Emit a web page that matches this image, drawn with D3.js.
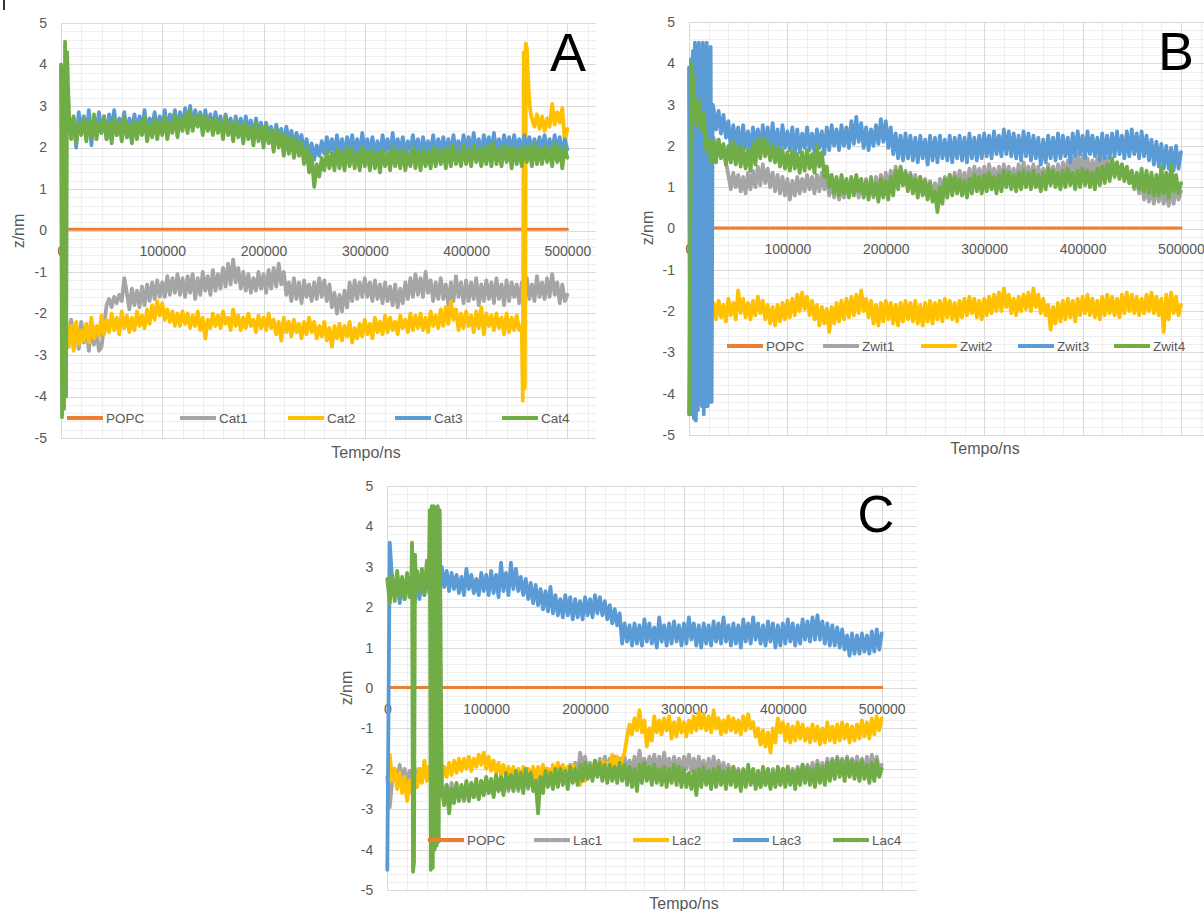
<!DOCTYPE html>
<html>
<head>
<meta charset="utf-8">
<script src="https://cdn.jsdelivr.net/npm/d3@7"></script>
<style>
  body { margin: 0; background: #fff; }
  svg { display: block; }
  text { font-family: "Liberation Sans", Arial, sans-serif; }
</style>
</head>
<body>
<svg id="chart" width="1204" height="911"></svg>
<script>
// Regular sampling grid shared by all traces (ns)
const time = d3.range(0, 500001, 2500);
const yTicks = d3.range(-5, 6);
const xTicks = [0, 100000, 200000, 300000, 400000, 500000];
const colors = ["#ED7D31", "#A5A5A5", "#FFC000", "#5B9BD5", "#70AD47"];

// ---- Panel A ----
const namesA = ["POPC", "Cat1", "Cat2", "Cat3", "Cat4"];
const popcTimeA = [6500, 500000];
const popcA = [0.03, 0.03];
const cat1 = [
  null,null,-2.25,-2.8,-2.15,-2.7,-2.3,-2.85,-2.2,-2.7,
  -2.35,-2.9,-2.25,-2.75,-2.4,-2.9,-2.8,-2.3,-1.8,-1.65,
  -1.85,-1.6,-1.75,-1.55,-1.7,-1.15,-1.5,-1.9,-1.4,-1.8,
  -1.45,-1.85,-1.35,-1.8,-1.3,-1.7,-1.25,-1.65,-1.2,-1.6,
  -1.25,-1.6,-1.1,-1.55,-1.15,-1.5,-1.05,-1.55,-1.15,-1.6,
  -1.1,-1.5,-1.05,-1.65,-1.15,-1.55,-1.0,-1.45,-1.1,-1.55,
  -0.95,-1.45,-1.05,-1.4,-0.9,-1.35,-0.8,-1.3,-0.7,-1.25,
  -0.9,-1.4,-1.0,-1.45,-1.05,-1.5,-1.15,-1.45,-1.0,-1.4,
  -1.05,-1.5,-0.95,-1.4,-0.9,-1.35,-0.8,-1.3,-1.0,-1.55,
  -1.25,-1.7,-1.15,-1.65,-1.25,-1.75,-1.2,-1.6,-1.3,-1.7,
  -1.25,-1.65,-1.15,-1.6,-1.2,-1.7,-1.3,-1.85,-1.5,-2.0,
  -1.55,-1.95,-1.45,-1.85,-1.25,-1.7,-1.2,-1.65,-1.25,-1.6,
  -1.15,-1.6,-1.25,-1.7,-1.2,-1.65,-1.3,-1.75,-1.25,-1.7,
  -1.35,-1.8,-1.3,-1.85,-1.4,-1.75,-1.25,-1.65,-1.15,-1.6,
  -1.05,-1.55,-1.15,-1.6,-1.0,-1.5,-1.2,-1.7,-1.25,-1.65,
  -1.15,-1.65,-1.3,-1.8,-1.25,-1.7,-1.1,-1.6,-1.25,-1.75,
  -1.2,-1.7,-1.25,-1.65,-1.15,-1.8,-1.3,-1.7,-1.2,-1.65,
  -1.25,-1.75,-1.15,-1.65,-1.3,-1.8,-1.2,-1.7,-1.25,-1.6,
  -1.3,-1.75,-1.25,-1.7,-1.15,-1.65,-1.3,-1.7,-1.1,-1.6,
  -1.25,-1.65,-1.15,-1.6,-1.05,-1.55,-1.25,-1.75,-1.3,-1.7,
  -1.55
];
const cat2 = [
  null,null,-2.1,-2.8,-2.3,-2.9,-2.2,-2.75,-2.4,-2.65,
  -2.25,-2.7,-2.1,-2.6,-2.3,-2.55,-2.05,-2.5,-2.15,-2.45,
  -2.0,-2.4,-2.1,-2.5,-1.95,-2.35,-2.05,-2.45,-2.1,-2.4,
  -1.95,-2.3,-2.05,-2.35,-1.9,-2.25,-1.8,-2.15,-1.7,-2.05,
  -1.75,-2.15,-1.9,-2.2,-1.95,-2.3,-2.0,-2.3,-1.95,-2.25,
  -2.0,-2.35,-2.05,-2.3,-1.95,-2.4,-2.1,-2.6,-2.15,-2.35,
  -2.0,-2.3,-2.05,-2.35,-1.95,-2.25,-2.1,-2.4,-1.9,-2.3,
  -2.05,-2.4,-2.1,-2.35,-2.0,-2.3,-2.15,-2.45,-2.05,-2.35,
  -2.1,-2.4,-2.0,-2.35,-2.15,-2.5,-2.2,-2.65,-2.1,-2.45,
  -2.2,-2.55,-2.15,-2.45,-2.25,-2.6,-2.2,-2.5,-2.1,-2.45,
  -2.2,-2.6,-2.3,-2.55,-2.2,-2.65,-2.35,-2.8,-2.3,-2.6,
  -2.25,-2.65,-2.3,-2.55,-2.2,-2.7,-2.35,-2.6,-2.25,-2.55,
  -2.15,-2.5,-2.25,-2.6,-2.1,-2.45,-2.2,-2.5,-2.05,-2.45,
  -2.1,-2.4,-2.2,-2.5,-2.05,-2.35,-2.15,-2.45,-2.0,-2.4,
  -2.05,-2.35,-2.0,-2.4,-2.1,-2.45,-1.95,-2.3,-2.05,-2.35,
  -1.9,-2.3,-1.85,-2.25,-1.7,-2.15,-1.9,-2.4,-2.0,-2.35,
  -1.95,-2.3,-2.05,-2.45,-1.95,-2.35,-1.85,-2.5,-2.0,-2.3,
  -2.05,-2.4,-2.0,-2.35,-2.1,-2.5,-2.0,-2.45,-2.1,-2.4,
  -2.05,-2.4,null,null,null,null,2.7,2.5,2.8,2.45,
  2.75,2.4,2.7,2.5,3.05,2.55,2.85,2.6,2.95,2.15,
  2.45
];
// fast excursion of Cat2 sampled every 1000 ns
const cat2BurstTime = d3.range(455000, 464001, 1000);
const cat2Burst = [-2.3, -4.1, 4.3, -3.8, 4.5, 4.4, 3.8, 3.3, 3.0, 2.8];
const cat3 = [
  3.9,2.9,2.45,2.8,2.3,2.7,2.0,2.85,2.4,2.75,
  2.3,2.9,2.05,2.7,2.45,2.85,2.35,2.75,2.2,2.8,
  2.4,2.9,2.3,2.7,2.5,2.85,2.25,2.7,2.4,2.8,
  2.35,2.75,2.45,2.9,2.3,2.7,2.5,2.85,2.4,2.75,
  2.45,2.9,2.35,2.8,2.55,2.9,2.4,2.85,2.5,2.95,
  2.55,3.0,2.5,2.9,2.6,2.85,2.45,2.9,2.5,2.8,
  2.4,2.85,2.5,2.75,2.35,2.8,2.45,2.7,2.3,2.75,
  2.4,2.7,2.3,2.75,2.4,2.65,2.25,2.7,2.35,2.6,
  2.2,2.6,2.3,2.5,2.1,2.55,2.2,2.45,2.05,2.5,
  2.15,2.4,2.0,2.35,2.1,2.3,1.9,2.2,1.75,2.1,
  1.7,2.05,1.8,2.15,1.85,2.25,1.9,2.2,1.8,2.3,
  1.85,2.2,1.8,2.25,1.9,2.3,1.85,2.2,1.8,2.35,
  1.9,2.2,1.8,2.25,1.85,2.15,1.75,2.3,1.9,2.2,
  1.8,2.35,1.9,2.2,1.85,2.25,1.8,2.15,1.9,2.3,
  1.85,2.2,1.8,2.25,1.9,2.15,1.85,2.3,1.8,2.2,
  1.9,2.25,1.85,2.2,1.8,2.3,1.9,2.15,1.85,2.3,
  1.9,2.25,1.85,2.35,1.9,2.2,1.8,2.3,1.95,2.25,
  1.85,2.35,1.9,2.2,1.85,2.3,1.9,2.25,1.8,2.3,
  1.9,2.2,1.85,2.3,1.95,2.25,1.85,2.2,1.9,2.25,
  1.85,2.3,1.9,2.2,1.85,2.3,1.9,2.25,1.8,2.2,
  1.95
];
const cat4 = [
  null,null,null,null,2.2,2.75,2.1,2.6,2.3,2.7,
  2.15,2.65,2.25,2.8,2.2,2.6,2.35,2.75,2.2,2.6,
  2.1,2.7,2.3,2.6,2.15,2.75,2.25,2.55,2.1,2.65,
  2.2,2.6,2.3,2.75,2.15,2.55,2.25,2.7,2.2,2.6,
  2.3,2.75,2.2,2.6,2.35,2.8,2.25,2.7,2.4,2.8,
  2.35,2.9,2.4,2.75,2.5,2.8,2.3,2.75,2.4,2.7,
  2.3,2.7,2.35,2.65,2.2,2.75,2.3,2.6,2.15,2.65,
  2.25,2.55,2.1,2.6,2.2,2.5,2.05,2.6,2.15,2.5,
  2.0,2.55,2.1,2.4,1.9,2.45,2.0,2.35,1.8,2.3,
  1.85,2.25,1.75,2.2,1.8,2.1,1.6,2.0,1.4,1.8,
  1.05,1.6,1.3,1.75,1.45,1.9,1.5,1.85,1.45,1.95,
  1.5,1.9,1.45,2.0,1.55,1.95,1.5,1.85,1.45,2.0,
  1.55,1.9,1.45,1.95,1.5,1.85,1.4,1.95,1.55,1.85,
  1.45,2.0,1.55,1.9,1.5,1.95,1.45,1.85,1.55,2.0,
  1.5,1.9,1.45,1.95,1.55,1.9,1.5,2.0,1.55,1.95,
  1.6,1.95,1.5,2.0,1.55,2.05,1.6,1.9,1.55,2.05,
  1.6,1.95,1.55,2.05,1.65,1.95,1.55,2.0,1.6,2.05,
  1.55,2.1,1.6,1.95,1.55,2.05,1.65,2.0,1.5,2.0,
  1.6,1.95,1.55,2.05,1.65,2.0,1.55,2.1,1.6,1.95,
  1.6,2.05,1.65,1.95,1.55,2.1,1.65,2.0,1.5,2.0,
  1.75
];
// start-up oscillation of Cat4 sampled every 1000 ns
const cat4BurstTime = d3.range(0, 8001, 1000);
const cat4Burst = [4.0, -4.5, 3.9, -4.3, 4.55, -4.0, 4.3, 3.4, 2.8];

// ---- Panel B ----
const namesB = ["POPC", "Zwit1", "Zwit2", "Zwit3", "Zwit4"];
const popcTimeB = [24000, 500000];
const popcB = [0.01, 0.01];
const zwit1 = [
  null,null,null,null,null,null,null,null,null,null,
  2.2,1.9,2.15,1.85,2.0,1.6,1.3,0.95,1.35,1.0,
  1.3,0.9,1.25,0.85,1.35,0.95,1.4,1.0,1.5,1.05,
  1.55,1.1,1.45,1.0,1.35,0.9,1.3,0.85,1.25,0.8,
  1.2,0.7,1.15,0.8,1.25,0.85,1.2,0.9,1.3,0.95,
  1.25,0.85,1.3,0.9,1.35,0.95,1.2,0.8,1.15,0.75,
  1.1,0.7,1.05,0.75,1.15,0.8,1.2,0.85,1.1,0.75,
  1.15,0.8,1.2,0.85,1.1,0.75,1.25,0.9,1.3,0.95,
  1.35,1.0,1.4,1.05,1.5,1.1,1.45,1.05,1.4,1.0,
  1.35,0.95,1.3,0.9,1.25,0.85,1.2,0.8,1.15,0.75,
  1.1,0.7,1.2,0.85,1.25,0.9,1.3,0.95,1.35,1.0,
  1.4,1.05,1.35,1.0,1.45,1.1,1.5,1.15,1.45,1.1,
  1.5,1.15,1.55,1.2,1.45,1.1,1.5,1.15,1.55,1.2,
  1.5,1.15,1.45,1.1,1.55,1.2,1.6,1.25,1.5,1.15,
  1.55,1.2,1.5,1.15,1.45,1.1,1.55,1.2,1.5,1.15,
  1.55,1.2,1.6,1.25,1.65,1.3,1.7,1.35,1.8,1.4,
  1.75,1.35,1.7,1.3,1.65,1.3,1.7,1.35,1.75,1.4,
  1.7,1.35,1.65,1.3,1.6,1.25,1.55,1.2,1.45,1.1,
  1.3,0.95,1.2,0.85,1.1,0.7,1.05,0.65,1.0,0.6,
  1.05,0.65,1.0,0.6,0.95,0.55,1.0,0.6,1.05,0.7,
  0.9
];
const zwit2 = [
  null,null,null,null,null,null,null,null,null,null,
  -1.8,-2.2,-1.75,-2.15,-1.85,-2.25,-1.7,-2.1,-1.8,-2.2,
  -1.5,-2.05,-1.7,-2.15,-1.8,-2.2,-1.75,-2.1,-1.65,-2.05,
  -1.75,-2.2,-1.85,-2.3,-1.9,-2.35,-1.85,-2.25,-1.8,-2.2,
  -1.75,-2.15,-1.7,-2.1,-1.6,-2.0,-1.55,-1.95,-1.65,-2.1,
  -1.75,-2.2,-1.85,-2.35,-1.9,-2.3,-1.95,-2.5,-1.9,-2.3,
  -1.8,-2.25,-1.75,-2.2,-1.7,-2.15,-1.65,-2.1,-1.6,-2.05,
  -1.5,-2.0,-1.7,-2.15,-1.75,-2.3,-1.85,-2.35,-1.8,-2.25,
  -1.75,-2.2,-1.8,-2.3,-1.85,-2.35,-1.8,-2.25,-1.75,-2.2,
  -1.8,-2.25,-1.75,-2.3,-1.85,-2.35,-1.8,-2.25,-1.75,-2.3,
  -1.8,-2.2,-1.75,-2.25,-1.7,-2.15,-1.75,-2.2,-1.8,-2.25,
  -1.75,-2.15,-1.7,-2.1,-1.65,-2.05,-1.7,-2.15,-1.75,-2.2,
  -1.7,-2.1,-1.65,-2.05,-1.6,-2.0,-1.55,-2.0,-1.45,-1.9,
  -1.6,-2.05,-1.7,-2.1,-1.65,-2.0,-1.6,-1.95,-1.55,-2.0,
  -1.45,-1.9,-1.6,-2.05,-1.7,-2.1,-1.85,-2.45,-1.9,-2.3,
  -1.8,-2.25,-1.75,-2.2,-1.7,-2.15,-1.75,-2.25,-1.7,-2.1,
  -1.65,-2.05,-1.6,-2.1,-1.7,-2.15,-1.75,-2.2,-1.65,-2.1,
  -1.6,-2.05,-1.65,-2.1,-1.7,-2.15,-1.6,-2.05,-1.55,-2.0,
  -1.6,-2.05,-1.65,-2.1,-1.7,-2.05,-1.6,-2.0,-1.55,-2.05,
  -1.65,-2.1,-1.7,-2.5,-1.6,-2.2,-1.55,-2.05,-1.65,-2.1,
  -1.85
];
const zwit3 = [
  null,null,null,null,null,null,null,null,null,null,
  2.9,2.4,2.85,2.3,2.75,2.2,2.6,1.95,2.5,2.0,
  2.45,1.85,2.5,1.95,2.35,1.8,2.45,2.0,2.4,1.85,
  2.5,1.95,2.45,1.85,2.55,1.9,2.4,1.8,2.5,1.95,
  2.35,1.9,2.45,1.8,2.4,1.85,2.3,1.95,2.45,1.9,
  2.3,1.85,2.4,1.95,2.35,1.8,2.45,1.9,2.5,2.0,
  2.4,1.9,2.5,2.0,2.45,1.95,2.6,2.05,2.7,2.1,
  2.55,1.95,2.45,1.9,2.4,2.0,2.5,2.05,2.65,2.1,
  2.6,1.95,2.45,1.8,2.3,1.7,2.25,1.65,2.3,1.7,
  2.25,1.65,2.2,1.6,2.25,1.7,2.15,1.55,2.25,1.65,
  2.2,1.6,2.25,1.7,2.15,1.65,2.25,1.6,2.2,1.7,
  2.25,1.65,2.2,1.6,2.3,1.7,2.2,1.65,2.25,1.7,
  2.3,1.75,2.25,1.7,2.35,1.8,2.25,1.75,2.4,1.8,
  2.35,1.75,2.3,1.7,2.25,1.65,2.35,1.75,2.3,1.65,
  2.25,1.7,2.2,1.55,2.15,1.6,2.25,1.7,2.2,1.65,
  2.3,1.7,2.25,1.75,2.2,1.6,2.3,1.75,2.35,1.8,
  2.25,1.7,2.35,1.8,2.25,1.75,2.2,1.65,2.3,1.7,
  2.25,1.7,2.3,1.75,2.35,1.8,2.25,1.7,2.35,1.75,
  2.4,1.8,2.3,1.7,2.35,1.75,2.25,1.65,2.15,1.55,
  2.1,1.5,2.05,1.45,2.0,1.45,1.95,1.4,2.0,1.45,
  1.85
];
// start-up oscillation of Zwit3 sampled every 1000 ns
const zwit3BurstTime = d3.range(0, 24001, 1000);
const zwit3Burst = [
  3.9,-4.5,4.1,-4.5,4.3,-4.6,4.5,-4.65,4.4,-4.4,
  4.5,-4.2,4.3,-4.3,4.5,-4.5,4.4,-4.3,4.5,-4.3,
  4.3,-4.2,4.4,-4.2,3.0
];
const zwit4 = [
  -4.5,4.0,3.4,2.5,3.1,2.4,2.8,1.9,2.15,1.6,
  2.1,1.6,2.15,1.7,2.05,1.55,2.0,1.6,2.1,1.55,
  2.0,1.5,1.95,1.45,1.9,1.4,2.05,1.55,2.15,1.7,
  2.2,1.75,2.1,1.65,2.0,1.6,1.95,1.5,1.9,1.45,
  1.85,1.4,1.9,1.45,1.8,1.35,1.85,1.4,1.9,1.45,
  1.8,1.35,2.0,1.5,1.85,1.25,1.5,1.0,1.3,0.85,
  1.25,0.8,1.3,0.85,1.2,0.75,1.25,0.8,1.3,0.9,
  1.2,0.75,1.15,0.7,1.25,0.8,1.1,0.65,1.2,0.75,
  1.15,0.7,1.25,0.8,1.4,0.95,1.5,1.05,1.35,0.9,
  1.3,0.85,1.2,0.75,1.25,0.8,1.15,0.7,1.1,0.65,
  0.9,0.4,1.0,0.6,1.2,0.75,1.3,0.8,1.25,0.85,
  1.2,0.8,1.15,0.75,1.2,0.85,1.3,0.9,1.25,0.85,
  1.3,0.9,1.35,0.95,1.25,0.85,1.3,0.9,1.4,1.0,
  1.35,0.95,1.3,0.9,1.35,0.95,1.4,1.0,1.35,0.95,
  1.4,1.0,1.3,0.9,1.35,0.95,1.45,1.05,1.4,1.0,
  1.35,0.95,1.4,1.0,1.45,1.05,1.35,0.95,1.4,1.0,
  1.45,1.05,1.4,1.0,1.35,0.95,1.45,1.05,1.5,1.1,
  1.55,1.15,1.7,1.25,1.6,1.2,1.55,1.15,1.5,1.1,
  1.4,1.0,1.35,0.95,1.45,0.9,1.4,0.85,1.35,0.8,
  1.3,0.8,1.5,0.85,1.35,0.75,1.55,0.9,1.3,0.85,
  1.1
];

// ---- Panel C ----
const namesC = ["POPC", "Lac1", "Lac2", "Lac3", "Lac4"];
const popcTimeC = [2000, 500000];
const popcC = [0.01, 0.01];
const lac1 = [
  -2.2,-2.95,-2.3,-2.0,-2.35,-1.9,-2.3,-2.0,-2.4,-2.05,
  -2.35,-1.95,-2.45,-2.0,-2.3,-1.9,-2.25,-1.95,-2.4,-2.0,
  -2.3,-2.7,-2.35,-2.75,-2.4,-2.8,-2.35,-2.7,-2.4,-2.75,
  -2.45,-2.8,-2.4,-2.75,-2.35,-2.7,-2.4,-2.75,-2.3,-2.65,
  -2.25,-2.6,-2.3,-2.65,-2.2,-2.55,-2.25,-2.6,-2.2,-2.55,
  -2.15,-2.5,-2.2,-2.55,-2.1,-2.45,-2.15,-2.5,-2.05,-2.4,
  -2.1,-2.45,-2.05,-2.4,-2.0,-2.35,-2.05,-2.4,-2.0,-2.35,
  -1.95,-2.3,-2.0,-2.35,-1.9,-2.25,-1.85,-2.2,-1.6,-1.95,
  -1.7,-2.05,-1.85,-2.1,-1.8,-2.05,-1.75,-2.0,-1.7,-2.05,
  -1.75,-2.05,-1.7,-2.0,-1.75,-2.1,-1.7,-2.05,-1.8,-2.1,
  -1.7,-2.05,-1.55,-2.0,-1.75,-2.1,-1.7,-2.0,-1.65,-2.05,
  -1.7,-2.05,-1.6,-2.0,-1.75,-2.1,-1.7,-2.05,-1.75,-2.1,
  -1.7,-2.0,-1.65,-2.05,-1.75,-2.1,-1.7,-2.05,-1.8,-2.15,
  -1.75,-2.1,-1.7,-2.05,-1.8,-2.15,-1.85,-2.2,-1.9,-2.25,
  -1.95,-2.3,-2.0,-2.35,-2.05,-2.4,-2.0,-2.35,-2.05,-2.4,
  -2.1,-2.45,-2.05,-2.4,-2.1,-2.45,-2.0,-2.35,-2.05,-2.4,
  -2.0,-2.35,-1.95,-2.3,-2.0,-2.35,-1.95,-2.3,-1.9,-2.25,
  -1.9,-2.25,-1.85,-2.2,-1.8,-2.15,-1.85,-2.2,-1.75,-2.1,
  -1.75,-2.1,-1.7,-2.05,-1.75,-2.1,-1.7,-2.05,-1.75,-2.1,
  -1.7,-2.05,-1.75,-2.1,-1.7,-2.05,-1.65,-2.0,-1.7,-2.05,
  -1.9
];
const lac2 = [
  null,-1.65,-2.3,-2.0,-2.5,-2.1,-2.6,-2.2,-2.8,-2.3,
  -2.6,-2.1,-2.45,-2.0,-2.35,-1.8,-2.3,-1.95,-2.4,-2.05,
  -2.35,-2.05,-2.3,-1.95,-2.2,-1.85,-2.15,-1.8,-2.1,-1.75,
  -2.05,-1.75,-2.0,-1.7,-2.05,-1.75,-1.95,-1.65,-1.9,-1.6,
  -2.0,-1.7,-2.05,-1.8,-2.1,-1.85,-2.15,-1.9,-2.2,-1.95,
  -2.2,-1.95,-2.25,-2.0,-2.3,-1.95,-2.25,-2.0,-2.2,-1.95,
  -2.25,-1.95,-2.2,-1.9,-2.25,-2.0,-2.2,-1.9,-2.15,-1.85,
  -2.2,-1.9,-2.25,-1.95,-2.2,-1.9,-2.3,-2.0,-2.4,-2.05,
  -2.3,-1.95,-2.2,-1.9,-2.15,-1.85,-2.1,-1.8,-2.15,-1.85,
  -1.95,-1.65,-2.0,-1.7,-2.05,-1.75,-1.6,-1.2,-0.9,-1.15,
  -0.75,-1.05,-0.55,-1.1,-0.8,-1.45,-1.0,-1.3,-0.7,-1.1,
  -0.8,-1.15,-0.75,-1.05,-0.7,-1.25,-0.85,-1.2,-0.75,-1.1,
  -0.85,-1.2,-0.8,-1.1,-0.7,-1.05,-0.6,-1.0,-0.65,-1.05,
  -0.7,-1.1,-0.55,-1.0,-0.75,-1.15,-0.8,-1.1,-0.7,-1.05,
  -0.75,-1.1,-0.8,-1.15,-0.7,-1.05,-0.65,-1.0,-0.85,-1.2,
  -1.0,-1.4,-1.05,-1.45,-1.1,-1.6,-1.0,-1.35,-0.75,-1.1,
  -0.85,-1.3,-0.9,-1.35,-0.95,-1.3,-0.85,-1.25,-0.9,-1.3,
  -1.0,-1.35,-0.9,-1.3,-0.95,-1.4,-1.0,-1.35,-0.85,-1.3,
  -0.95,-1.35,-0.9,-1.3,-0.85,-1.25,-0.9,-1.35,-0.95,-1.3,
  -0.9,-1.25,-0.8,-1.2,-0.85,-1.25,-0.75,-1.15,-0.7,-1.05,
  -0.75
];
const lac3 = [
  -4.5,3.6,2.6,2.25,2.7,2.1,2.6,2.2,2.75,2.3,
  2.55,2.1,2.7,2.2,2.8,2.3,2.9,2.35,2.85,2.4,
  2.95,2.45,3.0,2.5,2.9,2.4,2.85,2.45,2.8,2.35,
  2.75,2.3,2.95,2.45,2.8,2.35,2.7,2.3,2.85,2.4,
  2.8,2.3,2.9,2.35,2.8,2.25,3.1,2.4,2.85,2.3,
  3.1,2.45,2.95,2.4,2.75,2.3,2.7,2.2,2.6,2.1,
  2.55,2.05,2.45,1.95,2.4,1.9,2.5,1.85,2.3,1.8,
  2.2,1.75,2.3,1.8,2.25,1.7,2.2,1.75,2.15,1.7,
  2.25,1.8,2.2,1.75,2.3,1.85,2.25,1.8,2.15,1.7,
  2.05,1.6,1.95,1.55,1.85,1.1,1.6,1.15,1.55,1.05,
  1.6,1.1,1.55,1.05,1.7,1.15,1.6,1.1,1.5,1.0,
  1.75,1.15,1.55,1.05,1.6,1.1,1.65,1.15,1.55,1.05,
  1.6,1.1,1.75,1.2,1.6,1.05,1.55,1.0,1.6,1.1,
  1.55,1.05,1.65,1.15,1.6,1.1,1.75,1.15,1.55,1.05,
  1.6,1.1,1.55,1.0,1.7,1.15,1.6,1.1,1.75,1.2,
  1.6,1.1,1.55,1.05,1.65,1.15,1.6,1.0,1.55,1.05,
  1.6,1.1,1.7,1.15,1.6,1.05,1.55,1.1,1.7,1.2,
  1.65,1.15,1.75,1.2,1.8,1.2,1.65,1.1,1.6,1.05,
  1.55,1.05,1.5,1.0,1.45,0.95,1.3,0.8,1.35,0.85,
  1.3,0.85,1.35,0.9,1.3,0.85,1.4,0.9,1.45,0.95,
  1.35
];
const lac4 = [
  2.7,2.1,2.8,2.15,2.9,2.3,2.75,2.2,2.85,2.25,
  null,null,2.9,2.4,2.95,2.3,3.15,null,null,null,
  null,null,-2.5,-2.9,-2.4,-3.1,-2.5,-2.85,-2.35,-2.8,
  -2.4,-2.75,-2.3,-2.8,-2.35,-2.7,-2.25,-2.75,-2.3,-2.65,
  -2.2,-2.6,-2.25,-2.7,-2.15,-2.55,-2.2,-2.65,-2.1,-2.5,
  -2.15,-2.55,-2.05,-2.5,-2.1,-2.6,-2.0,-2.45,-2.1,-2.55,
  -2.3,-3.1,-2.2,-2.6,-2.05,-2.45,-2.1,-2.5,-2.0,-2.45,
  -2.0,-2.4,-2.05,-2.5,-1.95,-2.35,-2.0,-2.4,-1.9,-2.3,
  -1.85,-2.25,-1.9,-2.3,-1.8,-2.2,-1.85,-2.3,-1.9,-2.35,
  -1.9,-2.3,-1.95,-2.35,-1.85,-2.3,-1.9,-2.4,-1.95,-2.45,
  -2.0,-2.55,-1.9,-2.35,-1.85,-2.3,-1.95,-2.4,-1.9,-2.35,
  -2.0,-2.4,-1.95,-2.45,-2.0,-2.35,-1.9,-2.4,-1.95,-2.45,
  -2.0,-2.45,-2.1,-2.5,-2.05,-2.65,-2.0,-2.45,-1.95,-2.4,
  -2.05,-2.5,-2.0,-2.45,-1.95,-2.4,-2.05,-2.5,-2.0,-2.4,
  -1.95,-2.45,-2.05,-2.55,-2.0,-2.45,-1.9,-2.4,-2.0,-2.5,
  -2.05,-2.45,-1.95,-2.4,-2.0,-2.5,-2.05,-2.45,-1.95,-2.4,
  -2.0,-2.45,-1.95,-2.4,-2.05,-2.5,-2.0,-2.4,-1.9,-2.35,
  -1.95,-2.4,-2.0,-2.45,-1.9,-2.35,-1.95,-2.4,-1.85,-2.3,
  -1.8,-2.25,-1.75,-2.2,-1.8,-2.3,-1.75,-2.2,-1.8,-2.25,
  -1.85,-2.3,-1.8,-2.25,-1.9,-2.35,-1.85,-2.3,-1.8,-2.2,
  -2.0
];
// two fast excursions of Lac4 sampled every 1000 ns
const lac4SpikeTime = d3.range(24000, 29001, 1000);
const lac4Spike = [2.3, 3.6, -4.55, -4.3, 3.3, 2.6];
const lac4BurstTime = d3.range(42000, 53001, 1000);
const lac4Burst = [2.7, 4.4, -4.5, 4.5, -4.45, 4.5, -4.0, 4.45, -3.9, 4.5, -3.8, 4.4];

// Plot boxes, legend placement and labels for each of the three charts
const panels = [
  { names: namesA, popcT: popcTimeA, popc: popcA,
    traces: [
      { values: cat1 },
      { values: cat2, bursts: [{ time: cat2BurstTime, values: cat2Burst }] },
      { values: cat3 },
      { values: cat4, bursts: [{ time: cat4BurstTime, values: cat4Burst }] }
    ],
    box: { l: 61, r: 596, t: 23, b: 438 }, xMax: 528300,
    legendX: [67, 180, 288, 395, 502], legendY: 418,
    letter: { text: "A", x: 568, y: 71, size: 54 },
    yTitle: { x: 18, y: 231 }, xTitle: { x: 366, y: 458 } },
  { names: namesB, popcT: popcTimeB, popc: popcB,
    traces: [
      { values: zwit1 },
      { values: zwit2 },
      { values: zwit3, bursts: [{ time: zwit3BurstTime, values: zwit3Burst }] },
      { values: zwit4 }
    ],
    box: { l: 689, r: 1204, t: 22, b: 435 }, xMax: 523400,
    legendX: [727, 823, 921, 1018, 1114], legendY: 346,
    letter: { text: "B", x: 1176, y: 70, size: 54 },
    yTitle: { x: 647, y: 228 }, xTitle: { x: 985, y: 454 } },
  { names: namesC, popcT: popcTimeC, popc: popcC,
    traces: [
      { values: lac1 },
      { values: lac2 },
      { values: lac3 },
      { values: lac4, bursts: [
          { time: lac4SpikeTime, values: lac4Spike },
          { time: lac4BurstTime, values: lac4Burst }] }
    ],
    box: { l: 387.3, r: 917, t: 486, b: 890 }, xMax: 535700,
    legendX: [428, 534, 633, 733, 833], legendY: 840,
    letter: { text: "C", x: 876, y: 532, size: 51 },
    yTitle: { x: 346, y: 688 }, xTitle: { x: 684, y: 909 } }
];

// Merge a regularly sampled trace with its finely sampled stretches
function tracePoints(tr) {
  let pts = time.map((t, i) => [t, tr.values[i]]);
  (tr.bursts || []).forEach(b => {
    const lo = b.time[0], hi = b.time[b.time.length - 1];
    pts = pts.filter(d => d[0] < lo || d[0] > hi)
      .concat(b.time.map((t, i) => [t, b.values[i]]));
  });
  return pts.filter(d => d[1] !== null).sort((a, b) => a[0] - b[0]);
}

const svg = d3.select("#chart");
const textColor = "#595959";

// small fragment at the upper-left corner of the figure
svg.append("rect").attr("x", 3).attr("y", 0).attr("width", 2).attr("height", 10).attr("fill", "#333");

panels.forEach(p => {
  const x = d3.scaleLinear().domain([0, p.xMax]).range([p.box.l, p.box.r]);
  const y = d3.scaleLinear().domain([-5, 5]).range([p.box.b, p.box.t]);
  const g = svg.append("g");

  // minor grid
  const minorX = d3.range(20000, p.xMax, 20000).filter(v => v % 100000 !== 0);
  const minorY = d3.range(-25, 26).filter(k => k % 5 !== 0).map(k => k / 5);
  g.append("g").selectAll("line").data(minorX).join("line")
    .attr("x1", d => Math.round(x(d)) + 0.5).attr("x2", d => Math.round(x(d)) + 0.5)
    .attr("y1", p.box.t).attr("y2", p.box.b)
    .attr("stroke", "#eeeeee").attr("stroke-width", 1);
  g.append("g").selectAll("line").data(minorY).join("line")
    .attr("x1", p.box.l).attr("x2", p.box.r)
    .attr("y1", d => Math.round(y(d)) + 0.5).attr("y2", d => Math.round(y(d)) + 0.5)
    .attr("stroke", "#eeeeee").attr("stroke-width", 1);

  // major grid
  const majorX = d3.range(0, p.xMax, 100000);
  g.append("g").selectAll("line").data(majorX).join("line")
    .attr("x1", d => Math.round(x(d)) + 0.5).attr("x2", d => Math.round(x(d)) + 0.5)
    .attr("y1", p.box.t).attr("y2", p.box.b)
    .attr("stroke", "#d9d9d9").attr("stroke-width", 1);
  g.append("g").selectAll("line").data(yTicks).join("line")
    .attr("x1", p.box.l).attr("x2", p.box.r)
    .attr("y1", d => Math.round(y(d)) + 0.5).attr("y2", d => Math.round(y(d)) + 0.5)
    .attr("stroke", "#d9d9d9").attr("stroke-width", 1);

  // axes (labels only; grid already drawn)
  const yAxis = g.append("g").attr("transform", `translate(${p.box.l},0)`)
    .call(d3.axisLeft(y).tickValues(yTicks).tickSize(0).tickPadding(14).tickFormat(d => String(d)));
  const xAxis = g.append("g").attr("transform", `translate(0,${y(0)})`)
    .call(d3.axisBottom(x).tickValues(xTicks).tickSize(0).tickPadding(16).tickFormat(d => String(d)));
  [yAxis, xAxis].forEach(a => {
    a.select(".domain").remove();
    a.selectAll("text").attr("fill", textColor).attr("font-size", 14)
      .attr("font-family", "'Liberation Sans', Arial, sans-serif");
  });

  // traces: the flat POPC reference first, then the four solutes on top
  const line = d3.line().x(d => x(d[0])).y(d => y(d[1]));
  const popcPts = p.popcT.map((t, i) => [t, p.popc[i]]);
  const all = [popcPts].concat(p.traces.map(tracePoints));
  g.append("g").selectAll("path").data(all).join("path")
    .attr("d", line)
    .attr("fill", "none")
    .attr("stroke", (d, i) => colors[i])
    .attr("stroke-width", (d, i) => i === 0 ? 3 : 3.8)
    .attr("stroke-linejoin", "round")
    .attr("stroke-linecap", "round");

  // legend
  const lg = g.append("g");
  p.names.forEach((name, i) => {
    const lx = p.legendX[i];
    lg.append("line")
      .attr("x1", lx).attr("x2", lx + 36)
      .attr("y1", p.legendY).attr("y2", p.legendY)
      .attr("stroke", colors[i]).attr("stroke-width", 4);
    lg.append("text")
      .attr("x", lx + 39).attr("y", p.legendY).attr("dy", "0.35em")
      .attr("font-size", 13.5).attr("fill", textColor)
      .text(name);
  });

  // axis titles
  g.append("text")
    .attr("transform", `translate(${p.yTitle.x},${p.yTitle.y}) rotate(-90)`)
    .attr("text-anchor", "middle").attr("dy", "0.35em")
    .attr("font-size", 16).attr("fill", textColor)
    .text("z/nm");
  g.append("text")
    .attr("x", p.xTitle.x).attr("y", p.xTitle.y)
    .attr("text-anchor", "middle")
    .attr("font-size", 16).attr("fill", textColor)
    .text("Tempo/ns");

  // panel letter
  g.append("text")
    .attr("x", p.letter.x).attr("y", p.letter.y)
    .attr("text-anchor", "middle")
    .attr("font-size", p.letter.size).attr("fill", "#000")
    .text(p.letter.text);
});
</script>
</body>
</html>
